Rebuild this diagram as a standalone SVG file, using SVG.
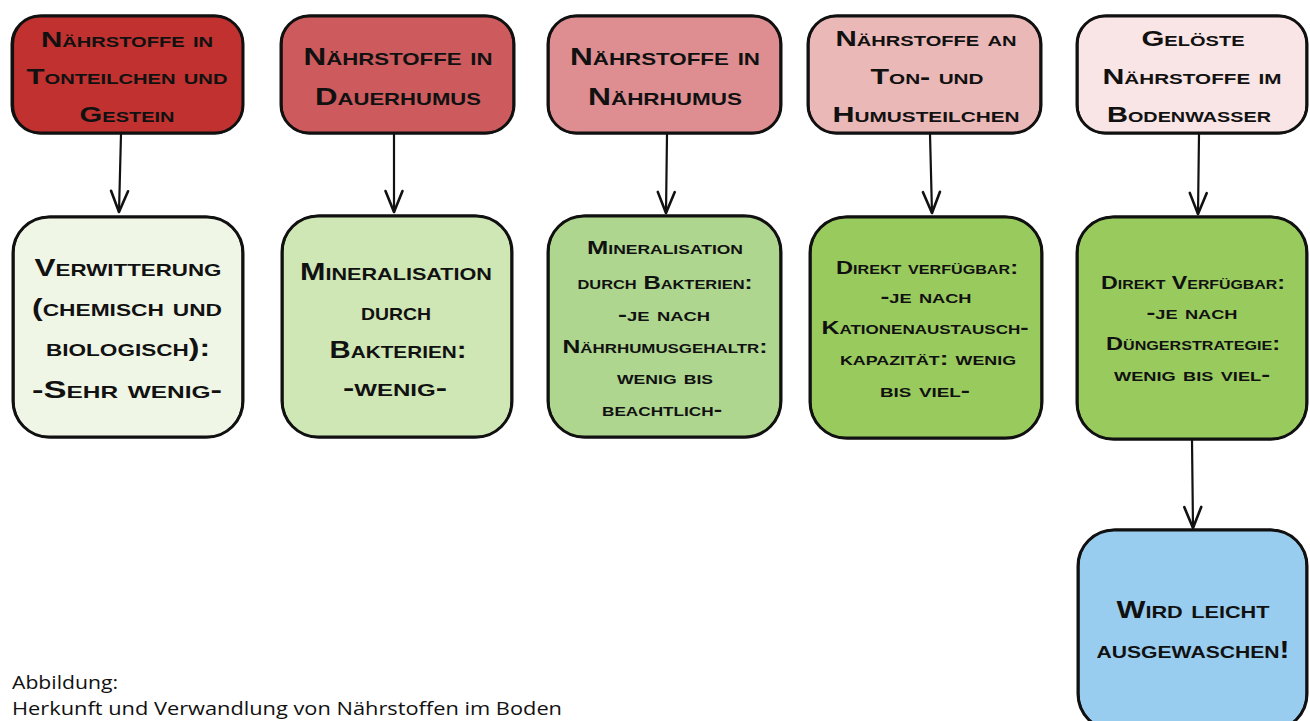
<svg xmlns="http://www.w3.org/2000/svg" width="1310" height="721" viewBox="0 0 1310 721">
  <defs>
    <style>
      .box { stroke: #111; stroke-width: 3; stroke-linejoin: round; }
      .sketch { fill: none; stroke: #111; stroke-width: 1.2; }
      .hand { font-family: "Liberation Sans", "DejaVu Sans", sans-serif; font-weight: bold; font-variant: small-caps; fill: #111; text-anchor: middle; }
      .caption { font-family: "Open Sans", "Liberation Sans", sans-serif; font-size: 19px; fill: #111; }
      .conn { stroke: #111; stroke-width: 2.2; fill: none; stroke-linecap: round; }
    </style>
    <!-- open V arrowhead, tip at the end of the line -->
    <marker id="arrow" viewBox="-26 -14 30 28" markerWidth="30" markerHeight="28" refX="0" refY="0" orient="auto" markerUnits="userSpaceOnUse">
      <path d="M-21,-8.5 L0,0 L-21,8.5" fill="none" stroke="#111" stroke-width="2.6" stroke-linecap="round" stroke-linejoin="round"/>
    </marker>
  </defs>

  <rect width="1310" height="721" fill="#ffffff"/>

  <!-- connectors -->
  <g id="connectors">
    <path class="conn" d="M121,134 L119,212" marker-end="url(#arrow)"/>
    <path class="conn" d="M394,134 L394,212" marker-end="url(#arrow)"/>
    <path class="conn" d="M667,134 L666,213" marker-end="url(#arrow)"/>
    <path class="conn" d="M930,134 L932,213" marker-end="url(#arrow)"/>
    <path class="conn" d="M1199,134 L1198,214" marker-end="url(#arrow)"/>
    <path class="conn" d="M1192,440 L1193,528" marker-end="url(#arrow)"/>
  </g>

  <!-- source row -->
  <g id="n-ton-gestein">
    <rect class="box" x="12" y="16" width="231" height="117" rx="28" fill="#c1312f"/>
    <rect class="sketch" x="13.5" y="15" width="229" height="119" rx="29"/>
    <text class="hand" font-size="22" x="127" y="47" textLength="172" lengthAdjust="spacingAndGlyphs">Nährstoffe in</text>
    <text class="hand" font-size="22" x="127" y="84" textLength="201" lengthAdjust="spacingAndGlyphs">Tonteilchen und</text>
    <text class="hand" font-size="22" x="127" y="122" textLength="95" lengthAdjust="spacingAndGlyphs">Gestein</text>
  </g>
  <g id="n-dauerhumus">
    <rect class="box" x="281" y="16" width="233" height="117" rx="28" fill="#cd5b5d"/>
    <rect class="sketch" x="282" y="15" width="231" height="119" rx="29"/>
    <text class="hand" font-size="24" x="398" y="65" textLength="189" lengthAdjust="spacingAndGlyphs">Nährstoffe in</text>
    <text class="hand" font-size="24" x="398" y="105" textLength="166" lengthAdjust="spacingAndGlyphs">Dauerhumus</text>
  </g>
  <g id="n-naehrhumus">
    <rect class="box" x="548" y="16" width="233" height="117" rx="28" fill="#de8d90"/>
    <rect class="sketch" x="549" y="15" width="231" height="119" rx="29"/>
    <text class="hand" font-size="24" x="665" y="65" textLength="190" lengthAdjust="spacingAndGlyphs">Nährstoffe in</text>
    <text class="hand" font-size="24" x="665" y="105" textLength="154" lengthAdjust="spacingAndGlyphs">Nährhumus</text>
  </g>
  <g id="n-ton-humusteilchen">
    <rect class="box" x="808" y="16" width="233" height="117" rx="28" fill="#ebb8b8"/>
    <rect class="sketch" x="809" y="15" width="231" height="119" rx="29"/>
    <text class="hand" font-size="22" x="926" y="46" textLength="181" lengthAdjust="spacingAndGlyphs">Nährstoffe an</text>
    <text class="hand" font-size="22" x="927" y="84" textLength="113" lengthAdjust="spacingAndGlyphs">Ton- und</text>
    <text class="hand" font-size="22" x="926" y="122" textLength="187" lengthAdjust="spacingAndGlyphs">Humusteilchen</text>
  </g>
  <g id="n-bodenwasser">
    <rect class="box" x="1077" y="16" width="230" height="117" rx="28" fill="#f9e5e5"/>
    <rect class="sketch" x="1078" y="15" width="228" height="119" rx="29"/>
    <text class="hand" font-size="22" x="1193" y="46" textLength="103" lengthAdjust="spacingAndGlyphs">Gelöste</text>
    <text class="hand" font-size="22" x="1192" y="84" textLength="179" lengthAdjust="spacingAndGlyphs">Nährstoffe im</text>
    <text class="hand" font-size="22" x="1189" y="122" textLength="164" lengthAdjust="spacingAndGlyphs">Bodenwasser</text>
  </g>

  <!-- availability row -->
  <g id="n-verwitterung">
    <rect class="box" x="13" y="217" width="230" height="220" rx="36" fill="#f0f6e6"/>
    <rect class="sketch" x="14" y="216" width="228" height="222" rx="37"/>
    <text class="hand" font-size="24" x="128" y="276" textLength="187" lengthAdjust="spacingAndGlyphs">Verwitterung</text>
    <text class="hand" font-size="24" x="127" y="316" textLength="190" lengthAdjust="spacingAndGlyphs">(chemisch und</text>
    <text class="hand" font-size="24" x="128" y="356" textLength="164" lengthAdjust="spacingAndGlyphs">biologisch):</text>
    <text class="hand" font-size="24" x="127" y="398" textLength="190" lengthAdjust="spacingAndGlyphs">-Sehr wenig-</text>
  </g>
  <g id="n-mineralisation-dauer">
    <rect class="box" x="282" y="216" width="230" height="221" rx="36" fill="#cfe6b5"/>
    <rect class="sketch" x="283" y="215" width="228" height="223" rx="37"/>
    <text class="hand" font-size="24" x="396" y="280" textLength="192" lengthAdjust="spacingAndGlyphs">Mineralisation</text>
    <text class="hand" font-size="24" x="396" y="320" textLength="70" lengthAdjust="spacingAndGlyphs">durch</text>
    <text class="hand" font-size="24" x="398" y="358" textLength="137" lengthAdjust="spacingAndGlyphs">Bakterien:</text>
    <text class="hand" font-size="24" x="395" y="396" textLength="104" lengthAdjust="spacingAndGlyphs">-wenig-</text>
  </g>
  <g id="n-mineralisation-naehr">
    <rect class="box" x="548" y="216" width="233" height="221" rx="36" fill="#aed68f"/>
    <rect class="sketch" x="549" y="215" width="231" height="223" rx="37"/>
    <text class="hand" font-size="19" x="665" y="254" textLength="156" lengthAdjust="spacingAndGlyphs">Mineralisation</text>
    <text class="hand" font-size="19" x="665" y="289" textLength="175" lengthAdjust="spacingAndGlyphs">durch Bakterien:</text>
    <text class="hand" font-size="19" x="664" y="321" textLength="92" lengthAdjust="spacingAndGlyphs">-je nach</text>
    <text class="hand" font-size="19" x="665" y="353" textLength="205" lengthAdjust="spacingAndGlyphs">Nährhumusgehaltr:</text>
    <text class="hand" font-size="19" x="665" y="384" textLength="96" lengthAdjust="spacingAndGlyphs">wenig bis</text>
    <text class="hand" font-size="19" x="662" y="416" textLength="120" lengthAdjust="spacingAndGlyphs">beachtlich-</text>
  </g>
  <g id="n-direkt-kak">
    <rect class="box" x="810" y="217" width="232" height="221" rx="36" fill="#99ca5e"/>
    <rect class="sketch" x="811" y="216" width="230" height="223" rx="37"/>
    <text class="hand" font-size="19" x="927" y="274" textLength="182" lengthAdjust="spacingAndGlyphs">Direkt verfügbar:</text>
    <text class="hand" font-size="19" x="926" y="303" textLength="91" lengthAdjust="spacingAndGlyphs">-je nach</text>
    <text class="hand" font-size="19" x="925" y="334" textLength="207" lengthAdjust="spacingAndGlyphs">Kationenaustausch-</text>
    <text class="hand" font-size="19" x="928" y="365" textLength="176" lengthAdjust="spacingAndGlyphs">kapazität: wenig</text>
    <text class="hand" font-size="19" x="925" y="397" textLength="90" lengthAdjust="spacingAndGlyphs">bis viel-</text>
  </g>
  <g id="n-direkt-duenger">
    <rect class="box" x="1077" y="217" width="230" height="222" rx="36" fill="#99ca5e"/>
    <rect class="sketch" x="1078" y="216" width="228" height="224" rx="37"/>
    <text class="hand" font-size="19" x="1193" y="289" textLength="184" lengthAdjust="spacingAndGlyphs">Direkt Verfügbar:</text>
    <text class="hand" font-size="19" x="1192" y="319" textLength="91" lengthAdjust="spacingAndGlyphs">-je nach</text>
    <text class="hand" font-size="19" x="1193" y="350" textLength="174" lengthAdjust="spacingAndGlyphs">Düngerstrategie:</text>
    <text class="hand" font-size="19" x="1192" y="381" textLength="156" lengthAdjust="spacingAndGlyphs">wenig bis viel-</text>
  </g>

  <!-- leaching -->
  <g id="n-ausgewaschen">
    <rect class="box" x="1078" y="530" width="229" height="200" rx="36" fill="#98cdf0"/>
    <rect class="sketch" x="1079" y="529" width="227" height="202" rx="37"/>
    <text class="hand" font-size="24" x="1193" y="618" textLength="153" lengthAdjust="spacingAndGlyphs">Wird leicht</text>
    <text class="hand" font-size="24" x="1193" y="658" textLength="193" lengthAdjust="spacingAndGlyphs">ausgewaschen!</text>
  </g>

  <!-- caption -->
  <g id="caption">
    <text class="caption" x="12" y="689" textLength="106" lengthAdjust="spacingAndGlyphs">Abbildung:</text>
    <text class="caption" x="12" y="715" textLength="550" lengthAdjust="spacingAndGlyphs">Herkunft und Verwandlung von Nährstoffen im Boden</text>
  </g>
</svg>
